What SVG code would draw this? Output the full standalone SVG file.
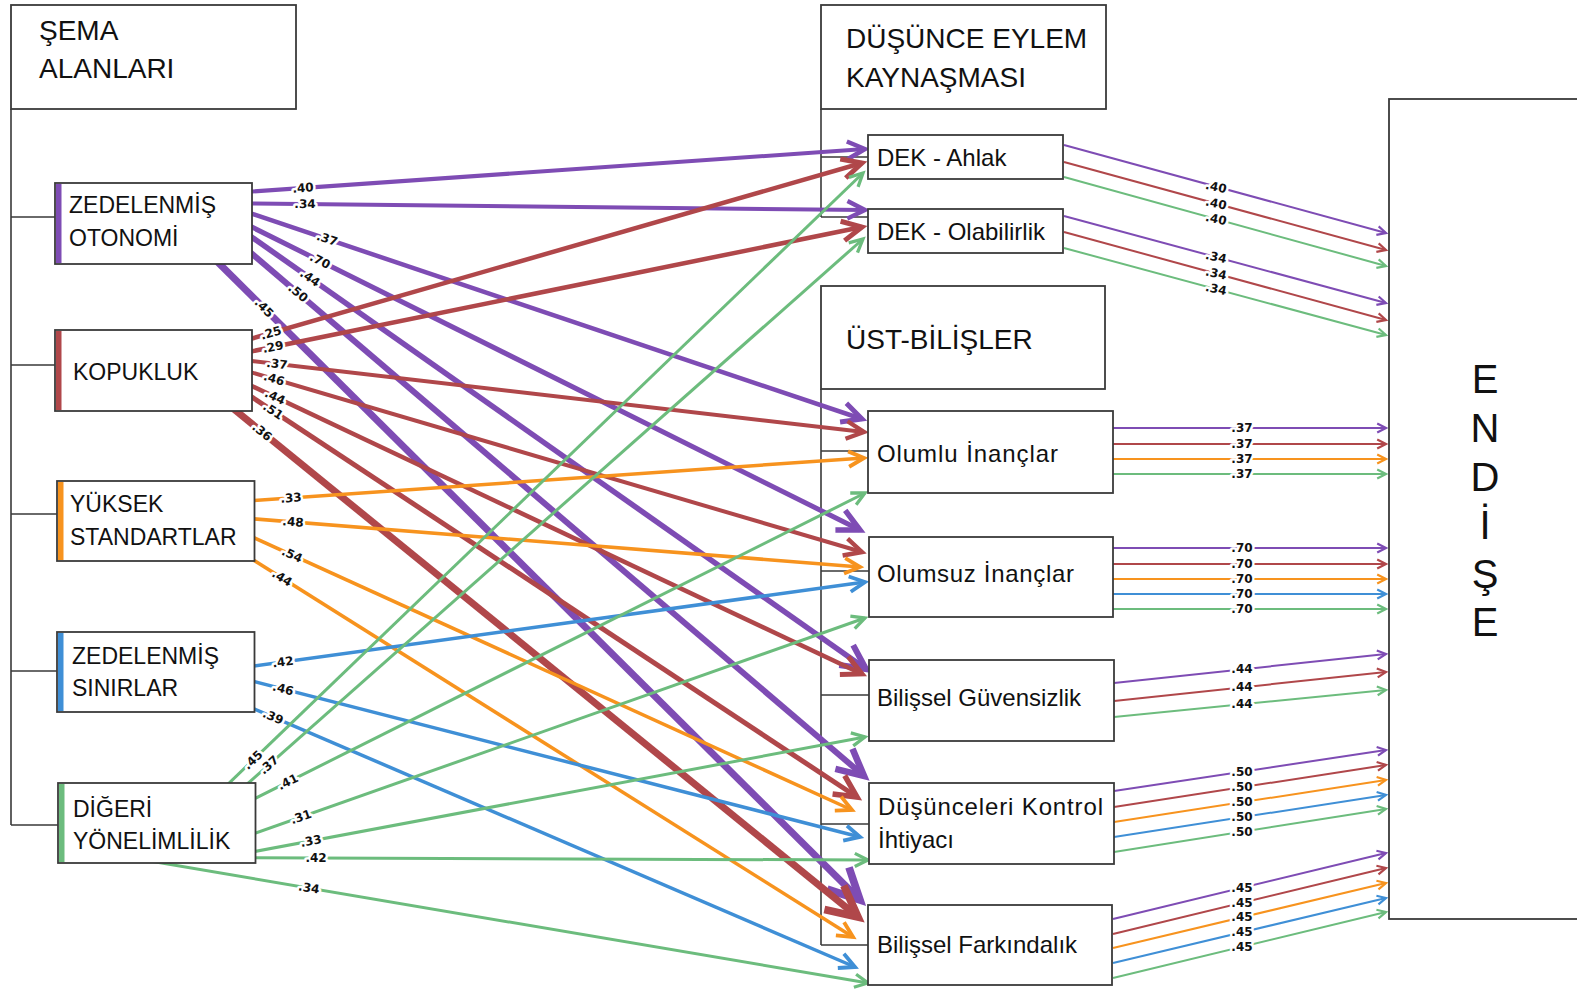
<svg xmlns="http://www.w3.org/2000/svg" width="1577" height="990" viewBox="0 0 1577 990">
<style>
.box{fill:#fff;stroke:#3a3a3a;stroke-width:1.8}
.br{fill:none;stroke:#3a3a3a;stroke-width:1.6}
.t{font-family:"Liberation Sans",Arial,sans-serif;fill:#111}
.big{font-size:28px}
.nl{font-size:23px}
.ml{font-size:24px}
.en{font-size:40px;text-anchor:middle}
line{fill:none;stroke-linecap:butt}
.p{stroke:#7e4cb4;marker-end:url(#ap)}
.r{stroke:#b0474a;marker-end:url(#ar)}
.o{stroke:#f7931e;marker-end:url(#ao)}
.b{stroke:#3f8fd6;marker-end:url(#ab)}
.g{stroke:#6cbc7d;marker-end:url(#ag)}
.thin line{stroke-width:2}
.lb{font-family:"DejaVu Sans",sans-serif;font-weight:bold;font-size:12px;fill:#111;stroke:#fff;stroke-width:5;stroke-linejoin:round;paint-order:stroke;text-anchor:middle;dominant-baseline:central}
</style>
<defs>
<marker id="ap" viewBox="0 0 10 10" refX="9" refY="5" markerWidth="5.5" markerHeight="5.5" orient="auto" markerUnits="strokeWidth" overflow="visible"><path d="M1,1 L9,5 L1,9" fill="none" stroke="#7e4cb4" stroke-width="2"/></marker>
<marker id="ar" viewBox="0 0 10 10" refX="9" refY="5" markerWidth="5.5" markerHeight="5.5" orient="auto" markerUnits="strokeWidth" overflow="visible"><path d="M1,1 L9,5 L1,9" fill="none" stroke="#b0474a" stroke-width="2"/></marker>
<marker id="ao" viewBox="0 0 10 10" refX="9" refY="5" markerWidth="5.5" markerHeight="5.5" orient="auto" markerUnits="strokeWidth" overflow="visible"><path d="M1,1 L9,5 L1,9" fill="none" stroke="#f7931e" stroke-width="2"/></marker>
<marker id="ab" viewBox="0 0 10 10" refX="9" refY="5" markerWidth="5.5" markerHeight="5.5" orient="auto" markerUnits="strokeWidth" overflow="visible"><path d="M1,1 L9,5 L1,9" fill="none" stroke="#3f8fd6" stroke-width="2"/></marker>
<marker id="ag" viewBox="0 0 10 10" refX="9" refY="5" markerWidth="5.5" markerHeight="5.5" orient="auto" markerUnits="strokeWidth" overflow="visible"><path d="M1,1 L9,5 L1,9" fill="none" stroke="#6cbc7d" stroke-width="2"/></marker>
</defs>
<rect width="1577" height="990" fill="#fff"/>

<g id="brackets">
<path class="br" d="M11,109 V825 M11,217 H55 M11,365 H55 M11,514 H57 M11,671 H57 M11,825 H58"/>
<path class="br" d="M821,109 V217 M821,157 H868 M821,217 H868"/>
<path class="br" d="M821,389 V945 M821,451 H868 M821,571 H869 M821,695 H869 M821,824 H869 M821,945 H868"/>
</g>

<g id="connectors">
<g id="left-connectors">
<line class="p" x1="245" y1="192" x2="865" y2="149" stroke-width="4"/>
<line class="p" x1="245" y1="203.4" x2="865" y2="210" stroke-width="4"/>
<line class="p" x1="245" y1="211.4" x2="862" y2="419" stroke-width="4.5"/>
<line class="p" x1="245" y1="223.6" x2="860" y2="530" stroke-width="5"/>
<line class="p" x1="245" y1="232.3" x2="866" y2="669" stroke-width="5.5"/>
<line class="p" x1="245" y1="247.8" x2="864" y2="776" stroke-width="6"/>
<line class="p" x1="210" y1="254.4" x2="860" y2="900" stroke-width="7"/>
<line class="r" x1="245" y1="340.5" x2="862" y2="163" stroke-width="4.5"/>
<line class="r" x1="245" y1="352.7" x2="862" y2="227" stroke-width="4.5"/>
<line class="r" x1="245" y1="360.3" x2="864" y2="432" stroke-width="4"/>
<line class="r" x1="245" y1="370.5" x2="862" y2="552" stroke-width="4"/>
<line class="r" x1="245" y1="382.8" x2="862" y2="674" stroke-width="4.5"/>
<line class="r" x1="245" y1="392.5" x2="857" y2="797" stroke-width="5"/>
<line class="r" x1="225" y1="401.9" x2="858" y2="917" stroke-width="7"/>
<line class="o" x1="248" y1="501" x2="864" y2="458" stroke-width="3.5"/>
<line class="o" x1="248" y1="518.4" x2="860" y2="567" stroke-width="3.5"/>
<line class="o" x1="248" y1="535" x2="852" y2="810" stroke-width="3.5"/>
<line class="o" x1="245" y1="554.7" x2="853" y2="937" stroke-width="3.5"/>
<line class="b" x1="248" y1="666.8" x2="865" y2="582" stroke-width="3.5"/>
<line class="b" x1="248" y1="680" x2="860" y2="837" stroke-width="3.5"/>
<line class="b" x1="248" y1="706.3" x2="855" y2="967" stroke-width="3.5"/>
<line class="g" x1="220" y1="791.8" x2="863" y2="173" stroke-width="3"/>
<line class="g" x1="240" y1="790.4" x2="863" y2="239" stroke-width="3"/>
<line class="g" x1="250" y1="801" x2="865" y2="493" stroke-width="3"/>
<line class="g" x1="250" y1="835" x2="865" y2="618" stroke-width="3"/>
<line class="g" x1="250" y1="852.4" x2="865" y2="737" stroke-width="3"/>
<line class="g" x1="250" y1="857.8" x2="868" y2="860" stroke-width="3"/>
<line class="g" x1="150" y1="861" x2="868" y2="983" stroke-width="3"/>
</g>
<g id="right-connectors" class="thin">
<line class="p" x1="1064" y1="145" x2="1386" y2="233"/>
<line class="r" x1="1064" y1="162" x2="1386" y2="250"/>
<line class="g" x1="1064" y1="177" x2="1386" y2="266"/>
<line class="p" x1="1064" y1="216" x2="1386" y2="303"/>
<line class="r" x1="1064" y1="232" x2="1386" y2="320"/>
<line class="g" x1="1064" y1="248" x2="1386" y2="335"/>
<line class="p" x1="1113" y1="428" x2="1386" y2="428"/>
<line class="r" x1="1113" y1="444" x2="1386" y2="444"/>
<line class="o" x1="1113" y1="459" x2="1386" y2="459"/>
<line class="g" x1="1113" y1="474" x2="1386" y2="474"/>
<line class="p" x1="1113" y1="548" x2="1386" y2="548"/>
<line class="r" x1="1113" y1="564" x2="1386" y2="564"/>
<line class="o" x1="1113" y1="579" x2="1386" y2="579"/>
<line class="b" x1="1113" y1="594" x2="1386" y2="594"/>
<line class="g" x1="1113" y1="609" x2="1386" y2="609"/>
<line class="p" x1="1114" y1="683" x2="1386" y2="654"/>
<line class="r" x1="1114" y1="701" x2="1386" y2="672"/>
<line class="g" x1="1114" y1="717" x2="1386" y2="690"/>
<line class="p" x1="1114" y1="791" x2="1386" y2="750"/>
<line class="r" x1="1114" y1="807" x2="1386" y2="765"/>
<line class="o" x1="1114" y1="822" x2="1386" y2="780"/>
<line class="b" x1="1114" y1="837" x2="1386" y2="795"/>
<line class="g" x1="1114" y1="852" x2="1386" y2="809"/>
<line class="p" x1="1113" y1="919" x2="1386" y2="853"/>
<line class="r" x1="1113" y1="934" x2="1386" y2="868"/>
<line class="o" x1="1113" y1="948" x2="1386" y2="883"/>
<line class="b" x1="1113" y1="963" x2="1386" y2="898"/>
<line class="g" x1="1113" y1="978" x2="1386" y2="912"/>
</g>
<g id="connector-labels">
<text class="lb" transform="translate(303,188) rotate(-4)">.40</text>
<text class="lb" transform="translate(305,204) rotate(0.6)">.34</text>
<text class="lb" transform="translate(327,239) rotate(18.6)">.37</text>
<text class="lb" transform="translate(320,261) rotate(26.5)">.70</text>
<text class="lb" transform="translate(310,278) rotate(35.1)">.44</text>
<text class="lb" transform="translate(298,293) rotate(40.5)">.50</text>
<text class="lb" transform="translate(264,308) rotate(44.8)">.45</text>
<text class="lb" transform="translate(271,333) rotate(-16)">.25</text>
<text class="lb" transform="translate(273,347) rotate(-11.5)">.29</text>
<text class="lb" transform="translate(277,364) rotate(6.6)">.37</text>
<text class="lb" transform="translate(274,379) rotate(16.4)">.46</text>
<text class="lb" transform="translate(275,397) rotate(25.3)">.44</text>
<text class="lb" transform="translate(273,411) rotate(33.5)">.51</text>
<text class="lb" transform="translate(262,432) rotate(39.1)">.36</text>
<text class="lb" transform="translate(291,498) rotate(-4)">.33</text>
<text class="lb" transform="translate(293,522) rotate(4.5)">.48</text>
<text class="lb" transform="translate(292,555) rotate(24.5)">.54</text>
<text class="lb" transform="translate(282,578) rotate(32.2)">.44</text>
<text class="lb" transform="translate(283,662) rotate(-7.8)">.42</text>
<text class="lb" transform="translate(283,689) rotate(14.4)">.46</text>
<text class="lb" transform="translate(273,717) rotate(23.2)">.39</text>
<text class="lb" transform="translate(253,760) rotate(-43.9)">.45</text>
<text class="lb" transform="translate(269,765) rotate(-41.5)">.37</text>
<text class="lb" transform="translate(288,782) rotate(-26.6)">.41</text>
<text class="lb" transform="translate(301,817) rotate(-19.4)">.31</text>
<text class="lb" transform="translate(311,841) rotate(-10.6)">.33</text>
<text class="lb" transform="translate(316,858)">.42</text>
<text class="lb" transform="translate(309,888) rotate(9.6)">.34</text>
<text class="lb" transform="translate(1216,187) rotate(12)">.40</text>
<text class="lb" transform="translate(1216,203.5) rotate(12)">.40</text>
<text class="lb" transform="translate(1216,219) rotate(12)">.40</text>
<text class="lb" transform="translate(1216,257) rotate(12)">.34</text>
<text class="lb" transform="translate(1216,273.5) rotate(12)">.34</text>
<text class="lb" transform="translate(1216,289) rotate(12)">.34</text>
<text class="lb" x="1242" y="428">.37</text>
<text class="lb" x="1242" y="444">.37</text>
<text class="lb" x="1242" y="459">.37</text>
<text class="lb" x="1242" y="474">.37</text>
<text class="lb" x="1242" y="548">.70</text>
<text class="lb" x="1242" y="564">.70</text>
<text class="lb" x="1242" y="579">.70</text>
<text class="lb" x="1242" y="594">.70</text>
<text class="lb" x="1242" y="609">.70</text>
<text class="lb" x="1242" y="669.4">.44</text>
<text class="lb" x="1242" y="687.4">.44</text>
<text class="lb" x="1242" y="704.3">.44</text>
<text class="lb" x="1242" y="771.7">.50</text>
<text class="lb" x="1242" y="787.2">.50</text>
<text class="lb" x="1242" y="802.2">.50</text>
<text class="lb" x="1242" y="817.2">.50</text>
<text class="lb" x="1242" y="831.8">.50</text>
<text class="lb" x="1242" y="887.8">.45</text>
<text class="lb" x="1242" y="902.8">.45</text>
<text class="lb" x="1242" y="917.3">.45</text>
<text class="lb" x="1242" y="932.3">.45</text>
<text class="lb" x="1242" y="946.8">.45</text>
</g>
</g>

<g id="sema-alanlari">
<rect class="box" x="11" y="5" width="285" height="104"/>
<text class="t big" x="39" y="40">ŞEMA</text>
<text class="t big" x="39" y="78">ALANLARI</text>
</g>
<g id="zedelenmis-otonomi">
<rect class="box" x="55" y="183" width="197" height="81"/>
<rect x="56" y="184" width="5.5" height="79" fill="#7e4cb4"/>
<text class="t nl" x="69" y="213">ZEDELENMİŞ</text>
<text class="t nl" x="69" y="246">OTONOMİ</text>
</g>
<g id="kopukluk">
<rect class="box" x="55" y="330" width="197" height="81"/>
<rect x="56" y="331" width="5.5" height="79" fill="#b0474a"/>
<text class="t nl" x="73" y="380">KOPUKLUK</text>
</g>
<g id="yuksek-standartlar">
<rect class="box" x="57" y="481" width="197.5" height="80"/>
<rect x="58" y="482" width="5.5" height="78" fill="#f7931e"/>
<text class="t nl" x="70" y="512">YÜKSEK</text>
<text class="t nl" x="70" y="545">STANDARTLAR</text>
</g>
<g id="zedelenmis-sinirlar">
<rect class="box" x="57" y="632" width="197.5" height="80"/>
<rect x="58" y="633" width="5.5" height="78" fill="#3f8fd6"/>
<text class="t nl" x="72" y="664">ZEDELENMİŞ</text>
<text class="t nl" x="72" y="696">SINIRLAR</text>
</g>
<g id="digeri-yonelimlilik">
<rect class="box" x="58" y="783" width="197.5" height="80"/>
<rect x="59" y="784" width="5.5" height="78" fill="#6cbc7d"/>
<text class="t nl" x="73" y="817">DİĞERİ</text>
<text class="t nl" x="73" y="849">YÖNELİMLİLİK</text>
</g>

<g id="dek-baslik">
<rect class="box" x="821" y="5" width="285" height="104"/>
<text class="t big" x="846" y="48" font-size="27.5">DÜŞÜNCE EYLEM</text>
<text class="t big" x="846" y="87" font-size="27.5">KAYNAŞMASI</text>
</g>
<g id="dek-ahlak">
<rect class="box" x="868" y="135" width="195" height="44"/>
<text class="t ml" x="877" y="166">DEK - Ahlak</text>
</g>
<g id="dek-olabilirlik">
<rect class="box" x="868" y="209" width="195" height="44"/>
<text class="t ml" x="877" y="240">DEK - Olabilirlik</text>
</g>
<g id="ust-bilisler">
<rect class="box" x="821" y="286" width="284" height="103"/>
<text class="t big" x="846" y="349" font-size="27">ÜST-BİLİŞLER</text>
</g>
<g id="olumlu-inanclar">
<rect class="box" x="868" y="411" width="245" height="82"/>
<text class="t ml" x="877" y="462" textLength="181">Olumlu İnançlar</text>
</g>
<g id="olumsuz-inanclar">
<rect class="box" x="869" y="537" width="244" height="80"/>
<text class="t ml" x="877" y="582" textLength="197">Olumsuz İnançlar</text>
</g>
<g id="bilissel-guvensizlik">
<rect class="box" x="869" y="660" width="245" height="81"/>
<text class="t ml" x="877" y="706">Bilişsel Güvensizlik</text>
</g>
<g id="dusunceleri-kontrol">
<rect class="box" x="869" y="783" width="245" height="81"/>
<text class="t ml" x="878" y="815" textLength="225">Düşünceleri Kontrol</text>
<text class="t ml" x="878" y="848">İhtiyacı</text>
</g>
<g id="bilissel-farkindalik">
<rect class="box" x="868" y="905" width="244" height="80"/>
<text class="t ml" x="877" y="953">Bilişsel Farkındalık</text>
</g>

<g id="endise">
<rect class="box" x="1389" y="99" width="200" height="820"/>
<text class="t en" x="1485" y="393">E</text>
<text class="t en" x="1485" y="442">N</text>
<text class="t en" x="1485" y="491">D</text>
<text class="t en" x="1485" y="539">İ</text>
<text class="t en" x="1485" y="588">Ş</text>
<text class="t en" x="1485" y="636">E</text>
</g>
</svg>
